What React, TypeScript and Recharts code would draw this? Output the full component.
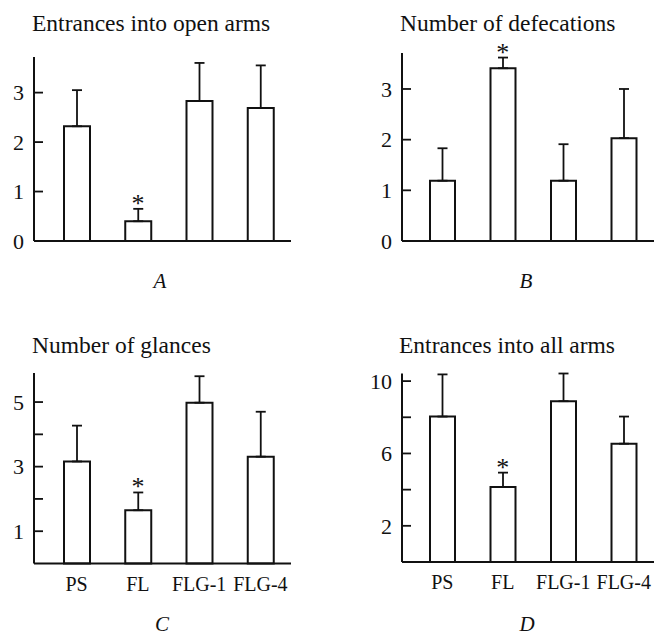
import { Bar, ComposedChart, ErrorBar, Line, XAxis, YAxis } from "recharts";

const GROUPS = ["PS", "FL", "FLG-1", "FLG-4"];
const STARRED = [false, true, false, false];

// A: entrances into open arms
const OPEN_MEAN = [2.32, 0.4, 2.83, 2.69];
const OPEN_ERR = [0.73, 0.25, 0.77, 0.86];
// B: number of defecations
const DEFEC_MEAN = [1.19, 3.41, 1.19, 2.03];
const DEFEC_ERR = [0.64, 0.21, 0.72, 0.97];
// C: number of glances
const GLANCE_MEAN = [3.16, 1.65, 4.98, 3.31];
const GLANCE_ERR = [1.11, 0.55, 0.82, 1.39];
// D: entrances into all arms
const ALL_MEAN = [8.04, 4.15, 8.89, 6.54];
const ALL_ERR = [2.33, 0.79, 1.53, 1.5];

const A_TICKS = [0, 1, 2, 3];
const B_TICKS = [0, 1, 2, 3];
const C_TICKS = [1, 2, 3, 4, 5];
const C_LABELED = [1, 3, 5];
const D_TICKS = [2, 4, 6, 8, 10];
const D_LABELED = [2, 6, 10];

const SERIF = '"Liberation Serif", "Times New Roman", serif';
const INK = "#111";
const GAP = 10;

function rows(mean: number[], err: number[]) {
  return GROUPS.map((g, i) => ({
    group: g,
    mean: mean[i],
    err: [0, err[i]],
    star: STARRED[i] ? mean[i] + err[i] : null,
  }));
}

function InwardTick(props: any) {
  const { x, y, payload, labeled } = props;
  const ax = x + GAP;
  const show = !labeled || labeled.includes(payload.value);
  return (
    <g>
      <line x1={ax} x2={ax + 9} y1={y} y2={y} stroke={INK} strokeWidth={1.8} />
      {show && (
        <text x={x} y={y} dy="0.35em" textAnchor="end" fontSize={22} fontFamily={SERIF} fill={INK}>
          {payload.value}
        </text>
      )}
    </g>
  );
}

function StarDot(props: any) {
  const { cx, cy, index } = props;
  if (cy == null || Number.isNaN(cy)) return <g key={`s${index}`} />;
  return (
    <text key={`s${index}`} x={cx} y={cy + 3} textAnchor="middle" fontSize={26} fontFamily={SERIF} fill={INK}>
      *
    </text>
  );
}

type PanelProps = {
  left: number;
  top: number;
  width: number;
  height: number;
  margin: { top: number; right: number; bottom: number; left: number };
  data: ReturnType<typeof rows>;
  max: number;
  ticks: number[];
  labeled?: number[];
  barSize: number;
  padLeft: number;
  showGroups: boolean;
};

function Panel(p: PanelProps) {
  return (
    <div style={{ position: "absolute", left: p.left, top: p.top }}>
      <ComposedChart width={p.width} height={p.height} data={p.data} margin={p.margin}>
        <XAxis
          dataKey="group"
          height={30}
          padding={{ left: p.padLeft, right: 0 }}
          axisLine={{ stroke: INK, strokeWidth: 2 }}
          tickLine={false}
          tickSize={0}
          tickMargin={13}
          tick={p.showGroups ? { fontSize: 20, fontFamily: SERIF, fill: INK } : false}
        />
        <YAxis
          width={30}
          domain={[0, p.max]}
          ticks={p.ticks}
          interval={0}
          axisLine={{ stroke: INK, strokeWidth: 2 }}
          tickLine={false}
          tickSize={0}
          tickMargin={GAP}
          tick={<InwardTick labeled={p.labeled} />}
        />
        <Bar dataKey="mean" fill="#fff" stroke={INK} strokeWidth={2} barSize={p.barSize} isAnimationActive={false}>
          <ErrorBar dataKey="err" direction="y" width={5} stroke={INK} strokeWidth={1.8} />
        </Bar>
        <Line dataKey="star" stroke="none" dot={StarDot} activeDot={false} isAnimationActive={false} />
      </ComposedChart>
    </div>
  );
}

const TITLES = [
  { text: "Entrances into open arms", x: 32, y: 31 },
  { text: "Number of defecations", x: 400, y: 31 },
  { text: "Number of glances", x: 32, y: 353 },
  { text: "Entrances into all arms", x: 399, y: 353 },
];
const LETTERS = [
  { text: "A", x: 160, y: 288 },
  { text: "B", x: 526, y: 288 },
  { text: "C", x: 162, y: 631 },
  { text: "D", x: 527, y: 631 },
];

export default function App() {
  return (
    <div style={{ position: "absolute", left: 0, top: 0, width: 658, height: 637, background: "#fff" }}>
      <Panel
        left={0}
        top={0}
        width={329}
        height={318}
        margin={{ top: 57, right: 38, bottom: 47, left: 4 }}
        data={rows(OPEN_MEAN, OPEN_ERR)}
        max={3.72}
        ticks={A_TICKS}
        barSize={26}
        padLeft={12}
        showGroups={false}
      />
      <Panel
        left={329}
        top={0}
        width={329}
        height={318}
        margin={{ top: 53, right: 4, bottom: 47, left: 43 }}
        data={rows(DEFEC_MEAN, DEFEC_ERR)}
        max={3.71}
        ticks={B_TICKS}
        barSize={25}
        padLeft={10}
        showGroups={false}
      />
      <Panel
        left={0}
        top={318}
        width={329}
        height={319}
        margin={{ top: 55, right: 38, bottom: 43.5, left: 4 }}
        data={rows(GLANCE_MEAN, GLANCE_ERR)}
        max={5.9}
        ticks={C_TICKS}
        labeled={C_LABELED}
        barSize={26}
        padLeft={12}
        showGroups
      />
      <Panel
        left={329}
        top={318}
        width={329}
        height={319}
        margin={{ top: 55.5, right: 4, bottom: 45, left: 43 }}
        data={rows(ALL_MEAN, ALL_ERR)}
        max={10.42}
        ticks={D_TICKS}
        labeled={D_LABELED}
        barSize={25}
        padLeft={10}
        showGroups
      />
      <svg width={658} height={637} style={{ position: "absolute", left: 0, top: 0, pointerEvents: "none" }}>
        {TITLES.map((t) => (
          <text key={t.text} x={t.x} y={t.y} fontSize={23.5} fontFamily={SERIF} fill={INK}>
            {t.text}
          </text>
        ))}
        {LETTERS.map((t) => (
          <text key={t.text} x={t.x} y={t.y} textAnchor="middle" fontSize={21} fontStyle="italic" fontFamily={SERIF} fill={INK}>
            {t.text}
          </text>
        ))}
      </svg>
    </div>
  );
}
